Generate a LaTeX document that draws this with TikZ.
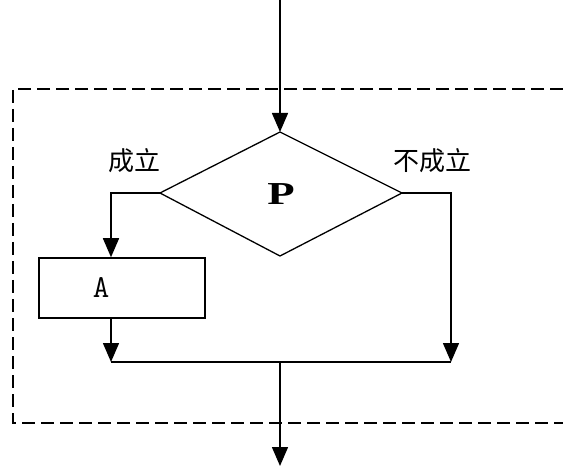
\documentclass[tikz,border=0pt]{standalone}
\usepackage{fontspec}
\newfontfamily\cjk{Noto Sans CJK SC}
\setmainfont{Liberation Serif}
\usetikzlibrary{arrows.meta}
\begin{document}
\begin{tikzpicture}[x=1pt,y=-1pt,
  line/.style={line width=1.5pt},
  arr/.style={line, -{Triangle[width=16pt,length=19pt]}},
  frame/.style={line width=1.7pt, dash pattern=on 13pt off 6pt},
  lbl/.style={font=\cjk\fontsize{26}{26}\selectfont, inner sep=0pt}]
\useasboundingbox (0,0) rectangle (563,468);
% dashed frame (open on the right)
\coordinate (ftr) at (563,89);
\coordinate (ftl) at (13,89);
\coordinate (fbl) at (13,423);
\coordinate (fbr) at (563,423);
\draw[frame] (ftr) -- (ftl) -- (fbl) -- (fbr);
% nodes
\coordinate (start) at (280,0);
\coordinate (dt) at (280,132);
\coordinate (dl) at (160,193);
\coordinate (dr) at (402,193);
\coordinate (db) at (280,256);
\draw[line width=1.3pt] (dt) -- (dr) -- (db) -- (dl) -- cycle;
\node[font=\bfseries\fontsize{32}{32}\selectfont, inner sep=0pt] (P) at (281,194) {\scalebox{1.4}[1]{P}};
\node[draw, line width=1.5pt, minimum width=166pt, minimum height=60pt, inner sep=0pt] (A) at (122,288) {};
\node[font=\ttfamily\fontsize{32}{32}\selectfont, inner sep=0pt] (Atxt) at (101,288) {A};
\node[lbl] (yes) at (134,161) {成立};
\node[lbl] (no) at (432,161) {不成立};
\coordinate (lcorner) at (111,193);
\coordinate (rcorner) at (451,193);
\coordinate (mergeL) at (111,362);
\coordinate (mergeR) at (451,362);
\coordinate (mergeC) at (280,362);
\coordinate (end) at (280,466);
\draw[arr] (start) -- (dt);
\draw[arr] (dl) -- (lcorner) -- (A.north -| lcorner);
\draw[arr] (A.south -| lcorner) -- (mergeL);
\draw[arr] (dr) -- (rcorner) -- (mergeR);
\draw[line] (mergeL) -- (mergeR);
\draw[arr] (mergeC) -- (end);
\end{tikzpicture}
\end{document}
